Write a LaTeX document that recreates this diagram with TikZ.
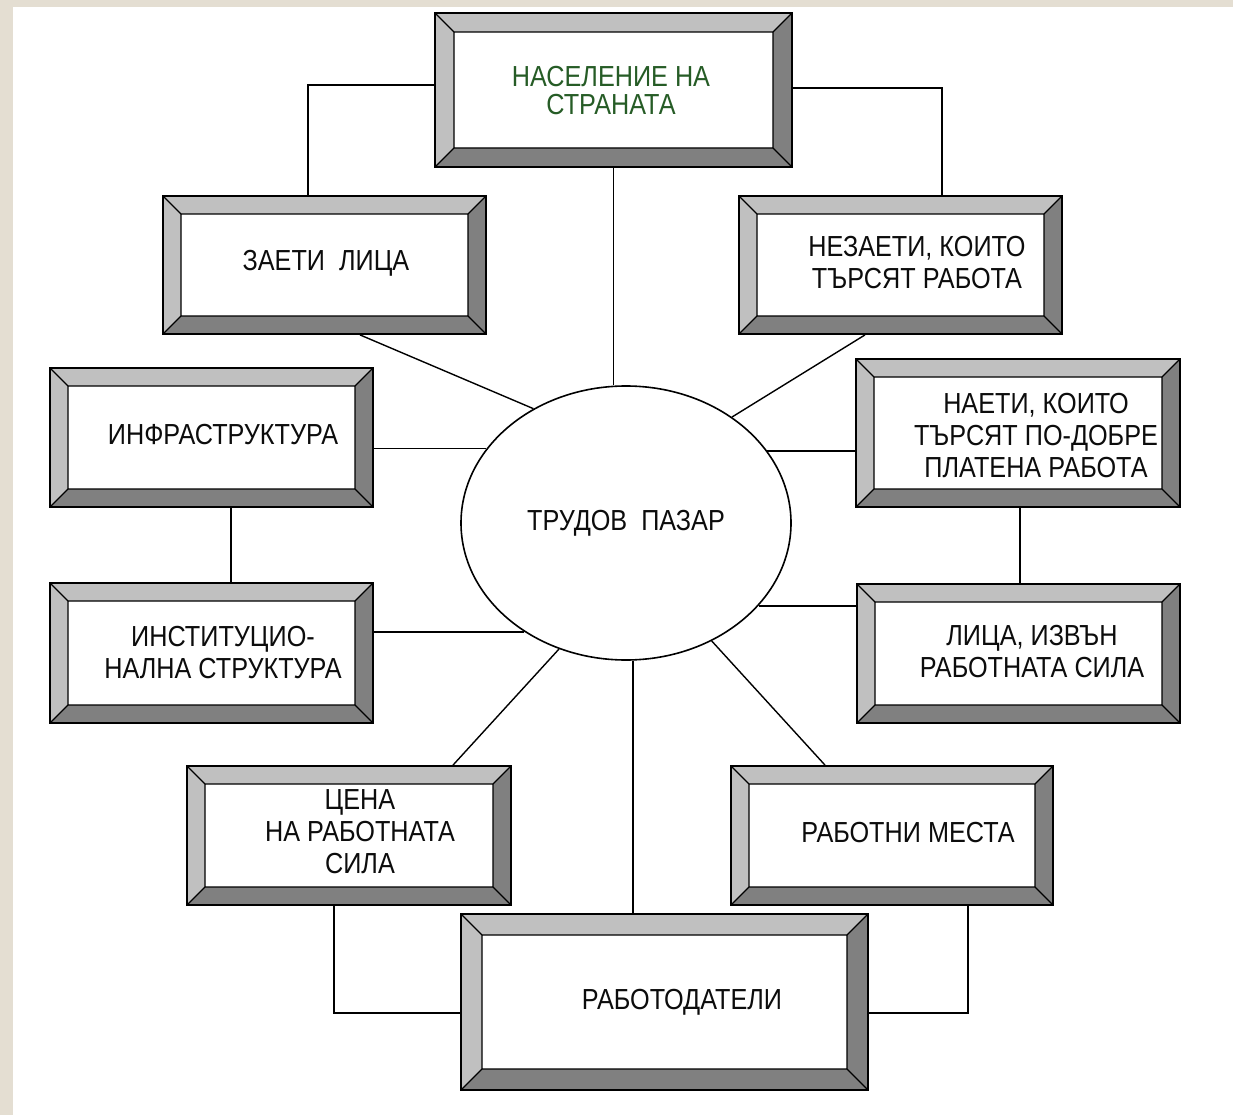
\documentclass[tikz,border=0pt]{standalone}
\usepackage{fontspec}
\setmainfont{Liberation Sans}[FakeStretch=0.87]
\usetikzlibrary{shapes.geometric}
\definecolor{bevlight}{RGB}{192,192,192}
\definecolor{bevdark}{RGB}{128,128,128}
\definecolor{framecol}{RGB}{228,222,210}
\definecolor{txtgreen}{RGB}{38,92,38}
\definecolor{txt}{RGB}{12,12,12}
\newcommand\bevelpic[1]{%
  \path (path picture bounding box.north west) coordinate (bvA)
        (path picture bounding box.north east) coordinate (bvB)
        (path picture bounding box.south east) coordinate (bvC)
        (path picture bounding box.south west) coordinate (bvD);
  \path ([xshift=#1pt,yshift=-#1pt]bvA) coordinate (bva)
        ([xshift=-#1pt,yshift=-#1pt]bvB) coordinate (bvb)
        ([xshift=-#1pt,yshift=#1pt]bvC) coordinate (bvc)
        ([xshift=#1pt,yshift=#1pt]bvD) coordinate (bvd);
  \fill[bevlight] (bvA) -- (bvB) -- (bvb) -- (bva) -- cycle;
  \fill[bevlight] (bvA) -- (bva) -- (bvd) -- (bvD) -- cycle;
  \fill[bevdark] (bvB) -- (bvC) -- (bvc) -- (bvb) -- cycle;
  \fill[bevdark] (bvD) -- (bvd) -- (bvc) -- (bvC) -- cycle;
  \draw[black, line width=1.3pt] (bva) rectangle (bvc)
        (bvA) -- (bva) (bvB) -- (bvb) (bvC) -- (bvc) (bvD) -- (bvd);
}
\tikzset{
  bevbox/.style={draw=black, line width=1.8pt, fill=white, inner sep=0pt,
                 path picture={\bevelpic{#1}}},
  bevbox/.default=18,
  lbl/.style={font=\fontsize{29}{32}\selectfont, align=center, inner sep=0pt, text=txt},
  conn/.style={draw=black, line width=1.4pt},
}
\begin{document}
\begin{tikzpicture}[x=1pt,y=-1pt]
\useasboundingbox (0,0) rectangle (1233,1115);
\fill[white] (0,0) rectangle (1233,1115);
\fill[framecol] (0,0) rectangle (1233,7);
\fill[framecol] (0,0) rectangle (13,1115);

\node[bevbox=19, minimum width=357pt, minimum height=154pt] (nas) at (613.5,90) {};
\node[bevbox, minimum width=323pt, minimum height=138pt] (zaeti) at (324.5,265) {};
\node[bevbox, minimum width=323pt, minimum height=138pt] (nezaeti) at (900.5,265) {};
\node[bevbox, minimum width=323pt, minimum height=139pt] (infra) at (211.5,437.5) {};
\node[bevbox, minimum width=324pt, minimum height=148pt] (naeti) at (1018,433) {};
\node[bevbox, minimum width=323pt, minimum height=140pt] (inst) at (211.5,653) {};
\node[bevbox, minimum width=323pt, minimum height=139pt] (lica) at (1018.5,653.5) {};
\node[bevbox, minimum width=324pt, minimum height=139pt] (cena) at (349,835.5) {};
\node[bevbox, minimum width=322pt, minimum height=139pt] (rabmesta) at (892,835.5) {};
\node[bevbox=21, minimum width=407pt, minimum height=176pt] (rabotod) at (664.5,1002) {};
\node[draw=black, line width=1.6pt, fill=white, ellipse, minimum width=330pt,
      minimum height=274pt, lbl] (tp) at (626,523) {ТРУДОВ\ \ ПАЗАР};

\draw[conn] (nas.south) -- (nas.south |- tp.north);
\draw[conn] ([yshift=5pt]nas.west) -| ([xshift=-16.5pt]zaeti.north);
\draw[conn] ([yshift=2pt]nas.east) -| ([xshift=41.5pt]nezaeti.north);
\draw[conn] ([xshift=35.5pt]zaeti.south) -- (tp.129.35);
\draw[conn] ([xshift=-35.5pt]nezaeti.south) -- (tp.45.5);
\draw[conn] (tp.152.9) -- (tp.152.9 -| infra.east);
\draw[conn] (tp.27.8) -- (tp.27.8 -| naeti.west);
\draw[conn] ([xshift=19.5pt]infra.south) -- ([xshift=19.5pt]inst.north);
\draw[conn] ([xshift=2pt]naeti.south) -- ([xshift=2pt]naeti.south |- lica.north);
\draw[conn] (tp.227) -- (tp.227 -| inst.east);
\draw[conn] (tp.-32.5) -- (tp.-32.5 -| lica.west);
\draw[conn] ([xshift=104pt]cena.north) -- (tp.242.2);
\draw[conn] ([xshift=-67pt]rabmesta.north) -- (tp.-54.5);
\draw[conn] ([xshift=-31.5pt]rabotod.north) -- ([xshift=-31.5pt]rabotod.north |- tp.south);
\draw[conn] ([xshift=-15pt]cena.south) |- ([yshift=-11pt]rabotod.west);
\draw[conn] ([xshift=76pt]rabmesta.south) |- ([yshift=-11pt]rabotod.east);

\node[lbl, text=txtgreen, font=\fontsize{29}{28}\selectfont] (t-nas) at (611,91) {НАСЕЛЕНИЕ НА\\СТРАНАТА};
\node[lbl] (t-zaeti) at (326,263.5) {ЗАЕТИ\ \ ЛИЦА};
\node[lbl] (t-nezaeti) at (917,263) {НЕЗАЕТИ, КОИТО\\ТЪРСЯТ РАБОТА};
\node[lbl] (t-infra) at (223,435) {ИНФРАСТРУКТУРА};
\node[lbl] (t-naeti) at (1036,436) {НАЕТИ, КОИТО\\ТЪРСЯТ ПО-ДОБРЕ\\ПЛАТЕНА РАБОТА};
\node[lbl] (t-inst) at (223,652.5) {ИНСТИТУЦИО-\\НАЛНА СТРУКТУРА};
\node[lbl] (t-lica) at (1032,651.5) {ЛИЦА, ИЗВЪН\\РАБОТНАТА СИЛА};
\node[lbl] (t-cena) at (360,832) {ЦЕНА\\НА РАБОТНАТА\\СИЛА};
\node[lbl] (t-rabmesta) at (908,832.5) {РАБОТНИ МЕСТА};
\node[lbl] (t-rabotod) at (682,1002) {РАБОТОДАТЕЛИ};
\end{tikzpicture}
\end{document}
